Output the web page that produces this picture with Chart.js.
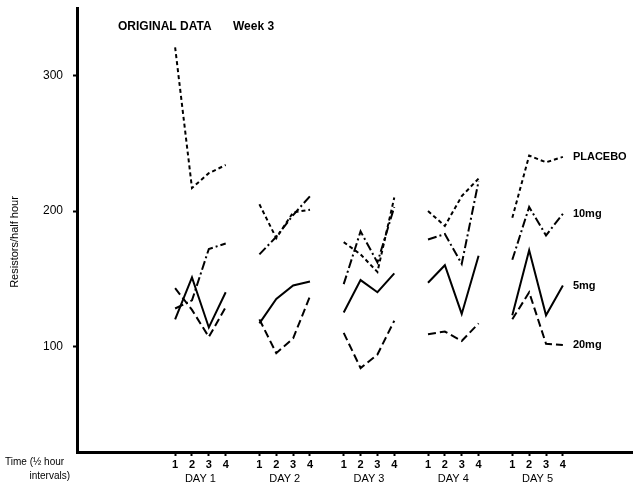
<!DOCTYPE html>
<html>
<head>
<meta charset="utf-8">
<script src="https://cdn.jsdelivr.net/npm/chart.js@4/dist/chart.umd.min.js"></script>
<style>
  html, body { margin: 0; padding: 0; background: #fff; }
  #wrap { width: 636px; height: 495px; position: relative; }
</style>
</head>
<body>
<div id="wrap"><canvas id="chart"></canvas></div>
<script>
// week 3, resistors per half hour, 4 readings per day
const dayLabels = ['DAY 1', 'DAY 2', 'DAY 3', 'DAY 4', 'DAY 5'];
const intervalLabels = ['1', '2', '3', '4'];
const yTicks = [100, 200, 300];

const placebo = [321, 217, 228, 234, 205, 180, 199, 201, 177, 168, 155, 210, 200, 189, 211, 224, 195, 241, 236, 240];
const mg10 = [128, 134, 172, 176, 168, 181, 197, 211, 146, 185, 162, 203, 179, 183, 161, 222, 164, 203, 182, 198];
const mg5 = [120, 151, 114, 140, 117, 135, 145, 148, 125, 149, 140, 154, 147, 160, 124, 167, 123, 171, 123, 145];
const mg20 = [143, 127, 107, 129, 120, 95, 106, 137, 110, 84, 94, 119, 109, 111, 104, 117, 120, 140, 102, 101];

const seriesNames = ['PLACEBO', '10mg', '5mg', '20mg'];
const seriesValues = [placebo, mg10, mg5, mg20];
const seriesDash = [[4, 3], [9, 3, 2, 3], [], [8, 4]];

const FONT = "'Liberation Sans', Arial, sans-serif";
const DAY_STEP = 5;

function xPos(day, i) {
    return day * DAY_STEP + i + 1;
}

// every day is its own little line, so put a null between days
function toPoints(values) {
    const pts = [];
    dayLabels.forEach((d, day) => {
        intervalLabels.forEach((lab, i) => {
            pts.push({ x: xPos(day, i), y: values[day * intervalLabels.length + i] });
        });
        pts.push({ x: xPos(day, intervalLabels.length - 1) + 0.5, y: null });
    });
    return pts;
}

const tickPositions = [];
dayLabels.forEach((d, day) => intervalLabels.forEach((lab, i) => tickPositions.push(xPos(day, i))));

const textPlugin = {
    id: 'textPlugin',
    afterDraw(chart) {
        const ctx = chart.ctx;
        const xs = chart.scales.x;
        const ys = chart.scales.y;
        ctx.save();
        ctx.fillStyle = '#000';

        // title
        ctx.font = 'bold 12px ' + FONT;
        ctx.textBaseline = 'middle';
        ctx.textAlign = 'left';
        ctx.fillText('ORIGINAL DATA', 118, 27);
        ctx.fillText('Week 3', 233, 27);

        // series labels next to the last day
        ctx.font = 'bold 11px ' + FONT;
        chart.data.datasets.forEach((ds, k) => {
            const vals = seriesValues[k];
            const last = vals[vals.length - 1];
            const px = xs.getPixelForValue(xPos(dayLabels.length - 1, intervalLabels.length - 1));
            ctx.fillText(seriesNames[k], px + 10, ys.getPixelForValue(last));
        });

        // day labels
        ctx.font = '11px ' + FONT;
        ctx.textAlign = 'center';
        dayLabels.forEach((d, day) => {
            const mid = (xPos(day, 0) + xPos(day, intervalLabels.length - 1)) / 2;
            ctx.fillText(d, xs.getPixelForValue(mid), 479);
        });

        // x axis caption
        ctx.font = '10px ' + FONT;
        ctx.textAlign = 'left';
        ctx.fillText('Time (\u00BD hour', 5, 462);
        ctx.textAlign = 'right';
        ctx.fillText('intervals)', 70, 476);

        // y axis caption
        ctx.translate(15, 242);
        ctx.rotate(-Math.PI / 2);
        ctx.textAlign = 'center';
        ctx.font = '11px ' + FONT;
        ctx.fillText('Resistors/half hour', 0, 0);
        ctx.restore();
    }
};

new Chart(document.getElementById('chart'), {
    type: 'line',
    data: {
        datasets: seriesNames.map((name, k) => ({
            label: name,
            data: toPoints(seriesValues[k]),
            borderColor: '#000',
            borderWidth: 2,
            borderDash: seriesDash[k],
            pointRadius: 0,
            spanGaps: false,
            tension: 0
        }))
    },
    options: {
        responsive: true,
        maintainAspectRatio: false,
        animation: false,
        layout: { padding: { top: 8, right: 4, left: 0, bottom: 0 } },
        plugins: {
            legend: { display: false },
            tooltip: { enabled: false }
        },
        scales: {
            x: {
                type: 'linear',
                min: -4.82,
                max: 28.1,
                afterBuildTicks: s => { s.ticks = tickPositions.map(v => ({ value: v })); },
                afterFit: s => { s.height = 43; },
                ticks: {
                    autoSkip: false,
                    maxRotation: 0,
                    padding: 2,
                    color: '#000',
                    font: { family: FONT, size: 11, weight: 'bold' },
                    callback: v => {
                        const idx = tickPositions.indexOf(v);
                        return idx < 0 ? '' : intervalLabels[idx % intervalLabels.length];
                    }
                },
                grid: {
                    drawOnChartArea: false,
                    drawTicks: true,
                    tickLength: 4,
                    tickWidth: 2,
                    tickColor: '#000'
                },
                border: { display: true, color: '#000', width: 3 }
            },
            y: {
                min: 22,
                max: 350,
                afterBuildTicks: s => { s.ticks = yTicks.map(v => ({ value: v })); },
                afterFit: s => {
                    s.width = 77;
                    s.paddingTop = 0;
                    s.paddingBottom = 0;
                },
                ticks: {
                    padding: 10,
                    color: '#000',
                    font: { family: FONT, size: 12 }
                },
                grid: {
                    drawOnChartArea: false,
                    drawTicks: true,
                    tickLength: 4,
                    tickWidth: 2,
                    tickColor: '#000'
                },
                border: { display: true, color: '#000', width: 3 }
            }
        }
    },
    plugins: [textPlugin]
});
</script>
</body>
</html>
